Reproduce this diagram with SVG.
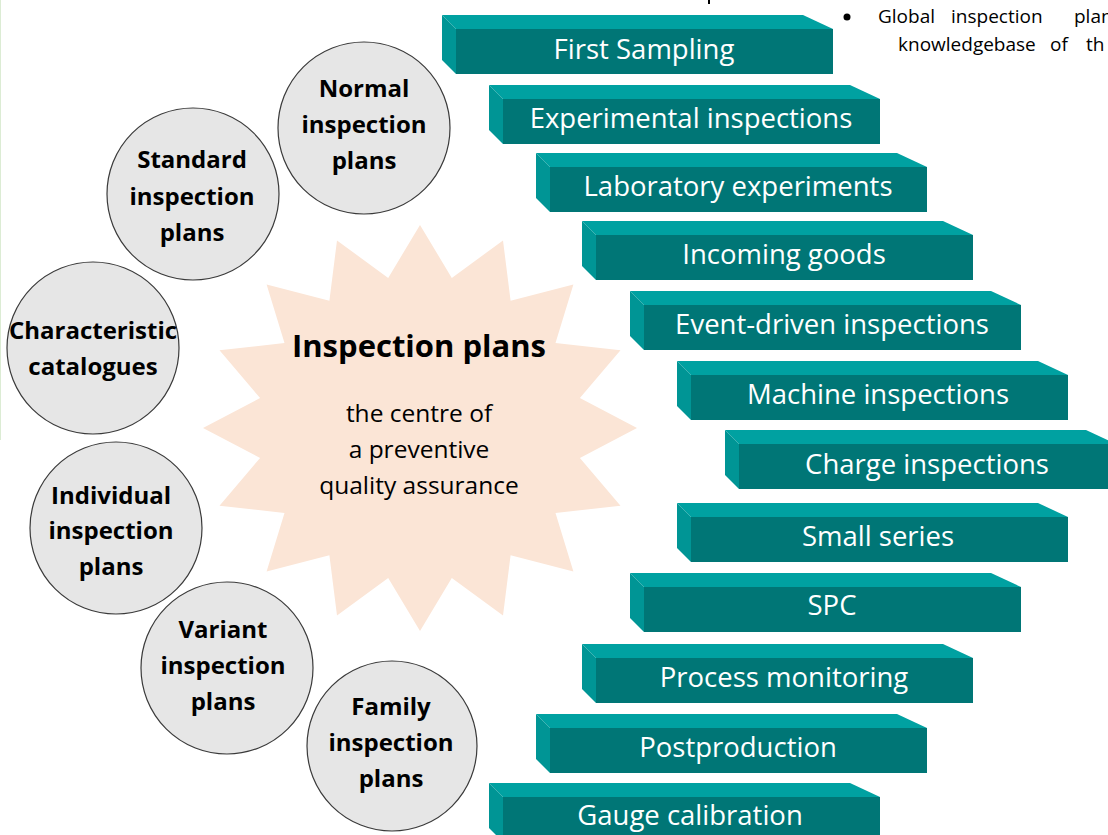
<svg xmlns="http://www.w3.org/2000/svg" xmlns:xlink="http://www.w3.org/1999/xlink" width="1108" height="835" viewBox="0 0 1108 835">
<style>
.bt{font-family:"Open Sans","Noto Sans",sans-serif;font-size:27.5px;fill:#ffffff;text-anchor:middle}
.ct{font-family:"Open Sans","Noto Sans",sans-serif;font-size:24px;font-weight:bold;fill:#000000;text-anchor:middle}
.circ{fill:#e6e6e6;stroke:#3a3a3a;stroke-width:1.2}
.st{font-family:"Open Sans","Noto Sans",sans-serif;fill:#000000;text-anchor:middle}
.gt{font-family:"Open Sans","Noto Sans",sans-serif;font-size:19px;fill:#000000}
</style>
<defs>
<g id="box">
<polygon points="0,0 361,0 391,14 14,14" fill="#00a1a1"/>
<polygon points="0,0 14,14 14,59 0,45" fill="#009595"/>
<rect x="14" y="14" width="377" height="45" fill="#007676"/>
</g>
</defs>
<rect x="0" y="0" width="1108" height="835" fill="#ffffff"/>
<line x1="0.5" y1="0" x2="0.5" y2="440" stroke="#dcecd4" stroke-width="1"/>
<rect x="708" y="0" width="2" height="4" fill="#000000"/>
<g id="note">
<circle cx="847" cy="17" r="3.5" fill="#000000"/>
<text class="gt" y="23"><tspan x="878">Global</tspan><tspan x="951">inspection</tspan><tspan x="1074">plan</tspan></text>
<text class="gt" y="51"><tspan x="898">knowledgebase</tspan><tspan x="1050">of</tspan><tspan x="1086">th</tspan></text>
</g>
<g id="center-star">
<polygon fill="#fbe5d6" points="420,225 451.8,277.9 503,240.5 510.6,300.8 573.4,284.5 555.5,343 620.5,350.3 579.9,398.1 637,428 579.9,457.9 620.5,505.7 555.5,513 573.4,571.5 510.6,555.2 503,615.5 451.8,578.1 420,631 388.2,578.1 337,615.5 329.4,555.2 266.6,571.5 284.5,513 219.5,505.7 260.1,457.9 203,428 260.1,398.1 219.5,350.3 284.5,343 266.6,284.5 329.4,300.8 337,240.5 388.2,277.9"/>
<text class="st" x="419" y="357" font-size="31" font-weight="bold">Inspection plans</text>
<text class="st" x="419" y="422" font-size="24.5">the centre of</text>
<text class="st" x="419" y="458" font-size="24.5">a preventive</text>
<text class="st" x="419" y="494" font-size="24.5">quality assurance</text>
</g>
<g id="c-normal"><circle class="circ" cx="364" cy="128" r="86"/><text class="ct" x="364"><tspan x="364" y="97">Normal</tspan><tspan x="364" y="133">inspection</tspan><tspan x="364" y="169">plans</tspan></text></g>
<g id="c-standard"><circle class="circ" cx="193" cy="194" r="86"/><text class="ct" x="192"><tspan x="192" y="168">Standard</tspan><tspan x="192" y="205">inspection</tspan><tspan x="192" y="241">plans</tspan></text></g>
<g id="c-characteristic"><circle class="circ" cx="93" cy="348" r="86"/><text class="ct" x="93"><tspan x="93" y="339">Characteristic</tspan><tspan x="93" y="375">catalogues</tspan></text></g>
<g id="c-individual"><circle class="circ" cx="116" cy="528" r="86"/><text class="ct" x="111"><tspan x="111" y="504">Individual</tspan><tspan x="111" y="539">inspection</tspan><tspan x="111" y="575">plans</tspan></text></g>
<g id="c-variant"><circle class="circ" cx="227" cy="668" r="86"/><text class="ct" x="223"><tspan x="223" y="638">Variant</tspan><tspan x="223" y="674">inspection</tspan><tspan x="223" y="710">plans</tspan></text></g>
<g id="c-family"><circle class="circ" cx="392" cy="746" r="85"/><text class="ct" x="391"><tspan x="391" y="715">Family</tspan><tspan x="391" y="751">inspection</tspan><tspan x="391" y="787">plans</tspan></text></g>
<g id="b-first-sampling" transform="translate(442,15)"><use xlink:href="#box"/><text class="bt" x="202" y="44">First Sampling</text></g>
<g id="b-experimental" transform="translate(489,85)"><use xlink:href="#box"/><text class="bt" x="202" y="43">Experimental inspections</text></g>
<g id="b-laboratory" transform="translate(536,153)"><use xlink:href="#box"/><text class="bt" x="202" y="43">Laboratory experiments</text></g>
<g id="b-incoming" transform="translate(582,221)"><use xlink:href="#box"/><text class="bt" x="202" y="43">Incoming goods</text></g>
<g id="b-event" transform="translate(630,291)"><use xlink:href="#box"/><text class="bt" x="202" y="43">Event-driven inspections</text></g>
<g id="b-machine" transform="translate(677,361)"><use xlink:href="#box"/><text class="bt" x="201" y="43">Machine inspections</text></g>
<g id="b-charge" transform="translate(725,430)"><use xlink:href="#box"/><text class="bt" x="202" y="44">Charge inspections</text></g>
<g id="b-small" transform="translate(677,503)"><use xlink:href="#box"/><text class="bt" x="201" y="43">Small series</text></g>
<g id="b-spc" transform="translate(630,573)"><use xlink:href="#box"/><text class="bt" x="202" y="42">SPC</text></g>
<g id="b-process" transform="translate(582,644)"><use xlink:href="#box"/><text class="bt" x="202" y="43">Process monitoring</text></g>
<g id="b-postproduction" transform="translate(536,714)"><use xlink:href="#box"/><text class="bt" x="202" y="43">Postproduction</text></g>
<g id="b-gauge" transform="translate(489,783)"><use xlink:href="#box"/><text class="bt" x="201" y="42">Gauge calibration</text></g>
<g id="connectors"/>
</svg>
